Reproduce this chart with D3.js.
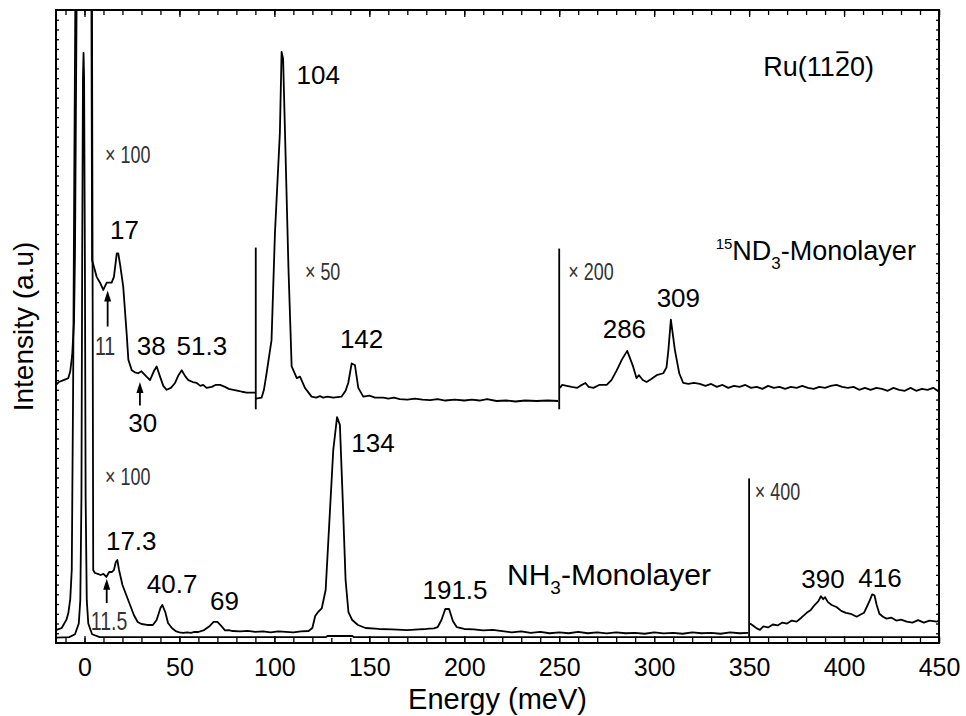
<!DOCTYPE html>
<html>
<head>
  <meta charset="utf-8">
  <script src="https://d3js.org/d3.v7.min.js"></script>
  <style>
    body { margin: 0; background: #fff; }
    text { font-family: "Liberation Sans", Arial, sans-serif; fill: #000; }
    .narrow { fill: #333; }
    .trace { fill: none; stroke: #000; stroke-width: 1.8; stroke-linejoin: round; }
    .axis line { stroke: #000; stroke-width: 1.3; }
    .axis path { display: none; }
  </style>
</head>
<body>
<svg id="chart" width="966" height="716"></svg>
<script>
  // energy axis (meV) and arbitrary intensity axis
  const xDomain = [-15, 450];
  const majorTicks = [0, 50, 100, 150, 200, 250, 300, 350, 400, 450];
  const minorTicks = d3.range(-10, 451, 10);
  const yDomain = [0, 65];
  const yTicks = d3.range(1, 65);

  // 15ND3 monolayer, x100 part (elastic peak runs off the top)
  const nd3x100 = [[-15, 26.5], [-13.5, 26.8], [-11, 27.0], [-8.5, 27.2], [-7.5, 27.9], [-6.5, 29.5], [-5.5, 33],
    [-5, 40], [-4.5, 55], [-4, 70], [-0.3, 95], [3.6, 70], [3.8, 55], [4, 39.3], [5, 38.6], [6.4, 37.6], [8.2, 37.0],
    [9.9, 36.25], [11.7, 37.0], [14.3, 37.0], [15.5, 37.6], [17, 40.0], [17.8, 40.0], [18.8, 38.8], [20.4, 36.6],
    [22.2, 31.8], [23.1, 29.1], [24.9, 28.0], [26.5, 27.8], [28.3, 27.7], [30, 27.9], [31.9, 27.5], [34.5, 27.0],
    [36.5, 27.9], [38, 28.4], [39.8, 27.35], [41.5, 26.4], [43.3, 26.0], [45.5, 26.2], [47.7, 26.7], [49.5, 27.5],
    [51.2, 28.0], [53, 27.4], [54.7, 27.0], [57, 26.8], [59.1, 26.7], [61, 26.4], [62.5, 26.5], [64.3, 26.2],
    [67, 26.3], [69, 26.5], [71.4, 26.5], [74, 26.3], [76, 26.1], [78.4, 26.0], [81, 25.9], [83, 25.8], [85.4, 25.7],
    [89.8, 25.7]];

  // 15ND3 monolayer, x50 part
  const nd3x50 = [[90.3, 25.1], [93.3, 25.2], [94.5, 26.0], [95.9, 27.7], [98.5, 31.1], [100.3, 42.1], [102.9, 52.4],
    [103.8, 60.7], [104.6, 60.0], [105.6, 52.4], [107.4, 38.6], [109.1, 28.4], [111.8, 27.2], [113.5, 27.35],
    [116.1, 26.2], [119.6, 25.3], [122, 25.2], [124, 25.35], [125.7, 25.2], [128, 25.3], [131, 25.2], [135.4, 25.3],
    [137.5, 25.9], [138.9, 26.7], [140.7, 28.7], [142.4, 28.55], [144.2, 26.2], [146.8, 25.3], [150, 25.4],
    [153, 25.2], [157.3, 25.2], [160, 25.1], [163, 25.2], [166, 25.05], [170, 25.0], [174, 25.1], [178, 25.0],
    [182, 24.95], [186, 25.05], [190, 24.9], [195, 25.0], [200, 24.9], [204, 25.0], [208, 24.9], [212, 25.05],
    [217, 24.85], [222, 24.9], [227, 24.8], [232, 24.9], [238, 24.85], [244, 24.9], [249.5, 24.85]];

  // 15ND3 monolayer, x200 part
  const nd3x200 = [[250.4, 26.2], [251.5, 26.5], [254, 26.4], [256.5, 26.3], [259.5, 26.2], [261, 26.4],
    [263.8, 26.7], [265.5, 26.3], [268, 26.2], [271, 26.5], [275, 26.5], [277.5, 27.0], [280.3, 28.0],
    [283, 29.1], [285.8, 30.0], [288.9, 28.4], [290.7, 27.2], [292, 27.5], [294, 27.0], [296, 26.8], [298.5, 27.1],
    [301.3, 27.5], [304.8, 27.7], [306.5, 28.3], [307.5, 30.1], [308.8, 33.2], [310.9, 30.1], [313.2, 27.7],
    [315.3, 26.7], [318, 26.6], [321, 26.7], [324, 26.6], [327, 26.4], [330, 26.6], [333, 26.3], [336, 26.5],
    [339, 26.2], [342, 26.4], [345, 26.3], [348, 26.5], [351, 26.2], [354, 26.3], [357, 26.1], [360, 26.4],
    [363, 26.2], [366, 26.3], [369, 26.1], [372, 26.3], [375, 26.2], [378, 26.4], [381, 26.2], [384, 26.1],
    [387, 26.3], [390, 26.2], [393, 26.4], [396, 26.5], [399, 26.3], [402, 26.2], [405, 26.3], [408, 26.0],
    [411, 26.2], [414, 26.0], [417, 26.2], [420, 26.1], [423, 25.9], [426, 26.2], [429, 26.0], [432, 25.9],
    [435, 26.2], [438, 25.9], [441, 26.1], [444, 26.0], [447, 26.2], [450, 25.8]];

  // NH3 monolayer, unscaled (x1)
  const nh3x1 = [[-15, 0.56], [-8, 0.6], [-5, 0.9], [-3, 2.0], [-2.2, 4.4], [-1.6, 15], [-1.2, 40], [-0.8, 58],
    [-0.5, 60.6], [-0.2, 58], [0.2, 40], [0.6, 15], [1.2, 4.4], [2, 2.0], [4, 0.9], [8, 0.6], [127, 0.6],
    [128, 0.72], [141, 0.72], [142, 0.6], [450, 0.6]];

  // NH3 monolayer, x100 part
  const nh3x100 = [[-15, 1.33], [-12, 1.54], [-9.5, 2.4], [-8.5, 3.08], [-7.5, 4.5], [-6.7, 7.5], [-6, 25.7],
    [-5.3, 50.6], [-4.7, 70], [-0.3, 100], [3.9, 70], [4.3, 35.2], [4.6, 7.5], [5.5, 7.19], [7, 7.09],
    [8.5, 6.98], [10, 7.09], [11.5, 6.78], [13, 7.29], [14.5, 7.29], [15.5, 7.5], [16.5, 8.32], [17.3, 8.52],
    [18.2, 7.5], [20, 5.96], [22, 4.93], [24, 3.9], [26, 2.88], [28, 2.16], [30, 1.95], [33, 1.85], [36, 1.85],
    [38, 2.36], [40, 3.59], [41, 3.9], [42.5, 3.2], [44, 2.05], [46, 1.54], [48, 1.23], [50, 1.1], [52, 1.03],
    [54, 1.1], [56, 1.03], [58, 1.13], [60, 1.13], [63, 1.33], [66, 1.75], [68, 2.16], [70, 2.16], [72, 1.75],
    [74, 1.3], [76, 1.33], [78, 1.23], [82, 1.2], [86, 1.25], [90, 1.15], [94, 1.2], [98, 1.1], [102, 1.2],
    [106, 1.15], [110, 1.1], [114, 1.2], [118, 1.23], [120, 1.54], [121.5, 2.77], [123, 3.18], [125, 3.59],
    [127, 5.44], [129, 12.6], [131, 19.8], [133, 23.2], [134.5, 22.4], [136, 14.7], [137.5, 6.47], [139, 3.18],
    [141, 2.36], [144, 1.85], [148, 1.54], [155, 1.44], [162, 1.4], [170, 1.33], [176, 1.4], [180, 1.44],
    [184, 1.5], [186, 1.64], [188, 2.36], [190, 3.49], [192, 3.49], [194, 2.26], [196, 1.64], [200, 1.44],
    [205, 1.4], [210, 1.3], [215, 1.35], [220, 1.23], [225, 1.1], [230, 1.2], [235, 1.05], [240, 1.15],
    [245, 1.0], [250, 1.1], [255, 1.0], [260, 1.15], [265, 1.0], [270, 1.1], [275, 0.98], [280, 1.1], [285, 1.0],
    [290, 1.05], [295, 0.95], [300, 1.1], [305, 0.98], [310, 1.05], [315, 0.95], [320, 1.1], [325, 1.0],
    [330, 1.05], [335, 0.95], [340, 1.1], [345, 1.0], [349.5, 1.03]];

  // NH3 monolayer, x400 part
  const nh3x400 = [[350.5, 2.0], [352, 1.8], [354, 1.5], [355.7, 1.35], [357.5, 1.7], [360, 1.6], [362.5, 1.9],
    [365, 1.8], [367.5, 2.1], [370, 2.0], [372.5, 2.3], [375, 2.2], [377.5, 2.6], [380.3, 3.1], [382.5, 3.4],
    [384.5, 3.9], [386.5, 4.3], [387.8, 4.8], [389, 4.5], [390, 4.7], [391.5, 4.2], [393.5, 3.9], [396, 3.7],
    [398.5, 3.3], [401, 3.1], [403.5, 3.0], [406.6, 2.7], [408.5, 2.9], [410.5, 3.1], [412.2, 3.8], [413.6, 4.4],
    [414.8, 5.0], [416, 4.9], [417.2, 3.9], [418.6, 3.0], [420.5, 2.7], [422.4, 2.5], [425, 2.6], [427.5, 2.3],
    [430, 2.4], [433, 2.2], [436, 2.1], [439, 2.35], [442, 2.1], [445, 2.3], [448.8, 2.2], [450, 2.3]];

  // vertical marks where the gain changes: energy, low, high
  const gainMarks = [[90.2, 24.0, 40.6], [250, 24.0, 40.5], [350, 0.62, 16.9]];

  // arrows: energy, tail, tip
  const arrows = [[12.2, 32.5, 36.2], [29.2, 24.4, 26.8], [11.7, 4.1, 6.6]];

  // peak labels: text, energy, intensity (left edge, baseline)
  const peakLabels = [["104", 111.7, 57.4], ["17", 13.4, 41.5], ["38", 27.5, 29.6], ["51.3", 48.5, 29.6],
    ["30", 23.1, 21.7], ["142", 134.5, 30.3], ["286", 272.9, 31.3], ["309", 301.3, 34.5], ["134", 140.5, 19.6],
    ["17.3", 11.3, 9.55], ["40.7", 32.8, 5.1], ["69", 66.1, 3.4], ["191.5", 178, 4.5], ["390", 377.5, 5.6],
    ["416", 407.5, 5.8]];

  // gain factors and small labels (narrow type)
  const gainLabels = [["\u00d7 100", 10.8, 49.3], ["\u00d7 50", 116.1, 37.3], ["\u00d7 200", 254.8, 37.3],
    ["\u00d7 100", 10.8, 16.2], ["\u00d7 400", 353, 14.7], ["11", 5.5, 29.6], ["11.5", 3.3, 1.33]];

  let svg = d3.select("#chart");

  let x = d3.scaleLinear().domain(xDomain).range([56, 939]);
  let y = d3.scaleLinear().domain(yDomain).range([643, 10]);

  svg.append("clipPath").attr("id", "plotclip")
    .append("rect")
    .attr("x", x.range()[0]).attr("y", y.range()[1])
    .attr("width", x.range()[1] - x.range()[0])
    .attr("height", y.range()[0] - y.range()[1]);

  // axes (ticks point inward)
  svg.append("g").attr("class", "axis")
    .attr("transform", `translate(0,${y(0)})`)
    .call(d3.axisBottom(x).tickValues(minorTicks).tickSizeInner(-5).tickSizeOuter(0).tickFormat(""));
  let bottom = svg.append("g").attr("class", "axis")
    .attr("transform", `translate(0,${y(0)})`)
    .call(d3.axisBottom(x).tickValues(majorTicks).tickSizeInner(-7).tickSizeOuter(0).tickPadding(15));
  bottom.selectAll("text").style("font-size", "25px").style("font-family", '"Liberation Sans", Arial, sans-serif');

  svg.append("g").attr("class", "axis")
    .attr("transform", `translate(0,${y(65)})`)
    .call(d3.axisTop(x).tickValues(minorTicks).tickSizeInner(-5).tickSizeOuter(0).tickFormat(""));
  svg.append("g").attr("class", "axis")
    .attr("transform", `translate(0,${y(65)})`)
    .call(d3.axisTop(x).tickValues(majorTicks).tickSizeInner(-7).tickSizeOuter(0).tickFormat(""));

  svg.append("g").attr("class", "axis")
    .attr("transform", `translate(${x(-15)},0)`)
    .call(d3.axisLeft(y).tickValues(yTicks).tickSizeInner(-3).tickSizeOuter(0).tickFormat(""));
  svg.append("g").attr("class", "axis")
    .attr("transform", `translate(${x(450)},0)`)
    .call(d3.axisRight(y).tickValues(yTicks).tickSizeInner(-3).tickSizeOuter(0).tickFormat(""));

  // spectra
  let line = d3.line().x(d => x(d[0])).y(d => y(d[1]));
  let plot = svg.append("g").attr("clip-path", "url(#plotclip)");
  [nh3x1, nh3x100, nh3x400, nd3x100, nd3x50, nd3x200].forEach(s => {
    plot.append("path").attr("class", "trace").attr("d", line(s));
  });

  gainMarks.forEach(m => {
    plot.append("line")
      .attr("x1", x(m[0])).attr("x2", x(m[0]))
      .attr("y1", y(m[1])).attr("y2", y(m[2]))
      .style("stroke", "#000").style("stroke-width", 1.8);
  });

  arrows.forEach(a => {
    let ax = x(a[0]), tip = y(a[2]);
    plot.append("line")
      .attr("x1", ax).attr("x2", ax).attr("y1", y(a[1])).attr("y2", tip + 6)
      .style("stroke", "#000").style("stroke-width", 1.8);
    plot.append("path")
      .attr("d", `M${ax - 3.5},${tip + 11}L${ax},${tip}L${ax + 3.5},${tip + 11}Z`)
      .style("fill", "#000");
  });

  // frame
  svg.append("rect")
    .attr("x", x(-15)).attr("y", y(65))
    .attr("width", x(450) - x(-15)).attr("height", y(0) - y(65))
    .style("fill", "none").style("stroke", "#000").style("stroke-width", 2);

  // labels
  peakLabels.forEach(l => {
    svg.append("text").attr("x", x(l[1])).attr("y", y(l[2]))
      .style("font-size", "26px").text(l[0]);
  });
  gainLabels.forEach(l => {
    svg.append("text").attr("class", "narrow")
      .attr("transform", `translate(${x(l[1])},${y(l[2])}) scale(0.78,1)`)
      .style("font-size", l[0].startsWith("\u00d7") ? "23px" : "25px").text(l[0]);
  });

  let ru = svg.append("text").attr("x", x(357.5)).attr("y", y(58.2)).style("font-size", "27px");
  ru.text("Ru(1120)");
  let bar = ru.node().getExtentOfChar(5);
  svg.append("line")
    .attr("x1", bar.x + 1.5).attr("x2", bar.x + bar.width - 1.5)
    .attr("y1", y(58.2) - 24).attr("y2", y(58.2) - 24)
    .style("stroke", "#000").style("stroke-width", 1.8);

  let nd3 = svg.append("text").attr("x", x(332.4)).attr("y", y(39.3)).style("font-size", "27px");
  nd3.append("tspan").style("font-size", "15px").attr("dy", -11).text("15");
  nd3.append("tspan").attr("dy", 11).text("ND");
  nd3.append("tspan").style("font-size", "17px").attr("dy", 9).text("3");
  nd3.append("tspan").attr("dy", -9).text("-Monolayer");

  let nh3 = svg.append("text").attr("x", x(222.5)).attr("y", y(6.0)).style("font-size", "30px");
  nh3.append("tspan").text("NH");
  nh3.append("tspan").style("font-size", "19px").attr("dy", 9).text("3");
  nh3.append("tspan").attr("dy", -9).text("-Monolayer");

  // axis titles
  svg.append("text").attr("x", (x(-15) + x(450)) / 2).attr("y", 709)
    .attr("text-anchor", "middle").style("font-size", "29px").text("Energy (meV)");
  svg.append("text").attr("transform", `translate(33,${(y(0) + y(65)) / 2}) rotate(-90)`)
    .attr("text-anchor", "middle").style("font-size", "28px").text("Intensity (a.u)");
</script>
</body>
</html>
